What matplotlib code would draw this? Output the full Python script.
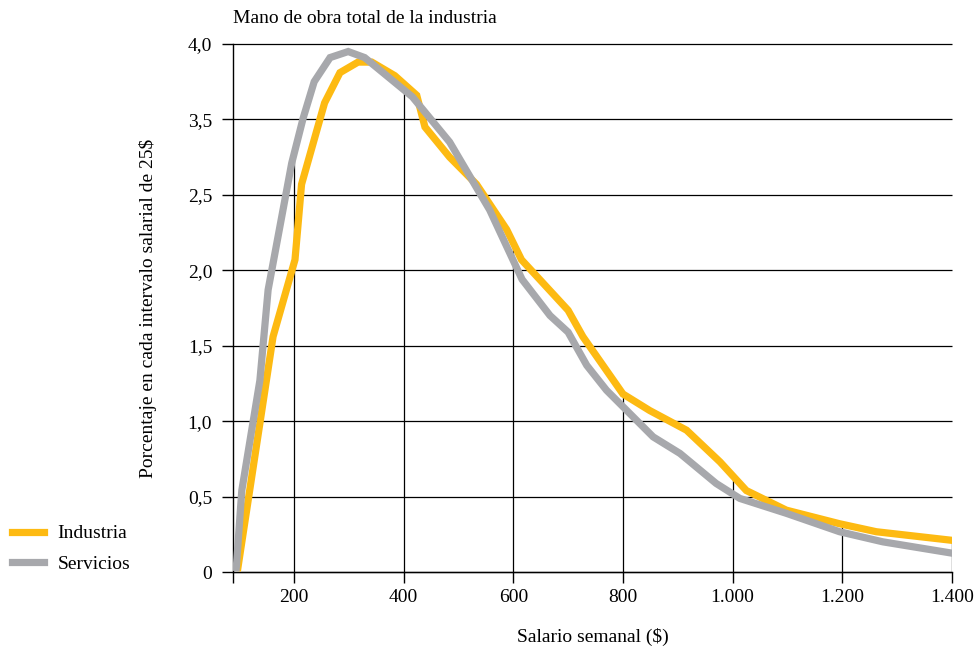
import matplotlib
matplotlib.use("Agg")
import matplotlib.pyplot as plt
import numpy as np

# Values in axis grid units (each gridline = 0.5); printed labels skip "3,0"
ind_x = [98, 162, 202, 214, 256, 284, 317, 342, 384, 424, 439, 484, 533, 588, 615,
         700, 727, 800, 849, 916, 977, 1025, 1098, 1195, 1262, 1400]
ind_y = [0.03, 1.56, 2.07, 2.57, 3.11, 3.31, 3.38, 3.38, 3.29, 3.16, 2.95, 2.75, 2.57,
         2.27, 2.07, 1.735, 1.56, 1.18, 1.07, 0.94, 0.73, 0.54, 0.41, 0.32, 0.267, 0.21]
ser_x = [95, 105, 138, 153, 196, 217, 237, 266, 299, 329, 416, 484, 557, 616, 667,
         700, 734, 770, 855, 904, 970, 1013, 1098, 1195, 1274, 1400]
ser_y = [0.03, 0.54, 1.27, 1.87, 2.71, 3.01, 3.25, 3.41, 3.45, 3.41, 3.15, 2.85, 2.40,
         1.94, 1.70, 1.59, 1.37, 1.205, 0.896, 0.786, 0.587, 0.488, 0.389, 0.267, 0.20, 0.125]

x_ticks = [200, 400, 600, 800, 1000, 1200, 1400]
x_labels = ["200", "400", "600", "800", "1.000", "1.200", "1.400"]
y_ticks = [0, 0.5, 1.0, 1.5, 2.0, 2.5, 3.0, 3.5]
y_labels = ["0", "0,5", "1,0", "1,5", "2,0", "2,5", "3,5", "4,0"]

title = "Mano de obra total de la industria"
xlabel = "Salario semanal ($)"
ylabel = "Porcentaje en cada intervalo salarial de 25$"
series_names = ["Industria", "Servicios"]

YELLOW = "#FDBA12"
GRAY = "#A7A8AC"
FS = 14

plt.rcParams['font.family'] = ['Liberation Serif', 'DejaVu Serif']
plt.rcParams['font.size'] = FS

fig = plt.figure(figsize=(9.77, 6.47), dpi=100)
ax = fig.add_axes([0.2385, 0.1159, 0.9744 - 0.2385, 0.932 - 0.1159])

ax.set_xlim(89, 1400)
ax.set_ylim(0, 3.5)

# horizontal gridlines
ax.hlines(y_ticks, 89, 1400, colors="black", linewidth=0.9, clip_on=False, zorder=1)
# vertical drop lines up to the curves
tops = np.maximum(np.interp(x_ticks, ind_x, ind_y), np.interp(x_ticks, ser_x, ser_y))
ax.vlines(x_ticks, 0, tops, colors="black", linewidth=0.9, zorder=1)

l1, = ax.plot(ind_x, ind_y, color=YELLOW, linewidth=5.2, solid_joinstyle="miter",
              label=series_names[0], zorder=3)
l2, = ax.plot(ser_x, ser_y, color=GRAY, linewidth=5.2, solid_joinstyle="miter",
              label=series_names[1], zorder=4)

for s in ["top", "right"]:
    ax.spines[s].set_visible(False)
ax.spines["left"].set_linewidth(1.0)
ax.spines["bottom"].set_linewidth(1.0)

ax.set_xticks([89] + x_ticks)
ax.set_xticklabels([""] + x_labels, fontsize=FS)
ax.set_yticks(y_ticks)
ax.set_yticklabels(y_labels, fontsize=FS)
ax.tick_params(axis="both", direction="out", length=8, width=1.0, color="black")
ax.tick_params(axis="x", pad=4)
ax.tick_params(axis="y", pad=7)

ax.set_xlabel(xlabel, fontsize=FS, labelpad=16)
ax.set_ylabel(ylabel, fontsize=FS, labelpad=22)
fig.text(0.2385, 0.972, title, fontsize=FS, ha="left", va="center")

fig.legend(handles=[l1, l2], loc="lower left", bbox_to_anchor=(0.008, 0.109),
           frameon=False, fontsize=FS, handlelength=1.65, handletextpad=0.7,
           labelspacing=0.65, borderaxespad=0.0, borderpad=0.2)

fig.savefig("out.png", dpi=100)
